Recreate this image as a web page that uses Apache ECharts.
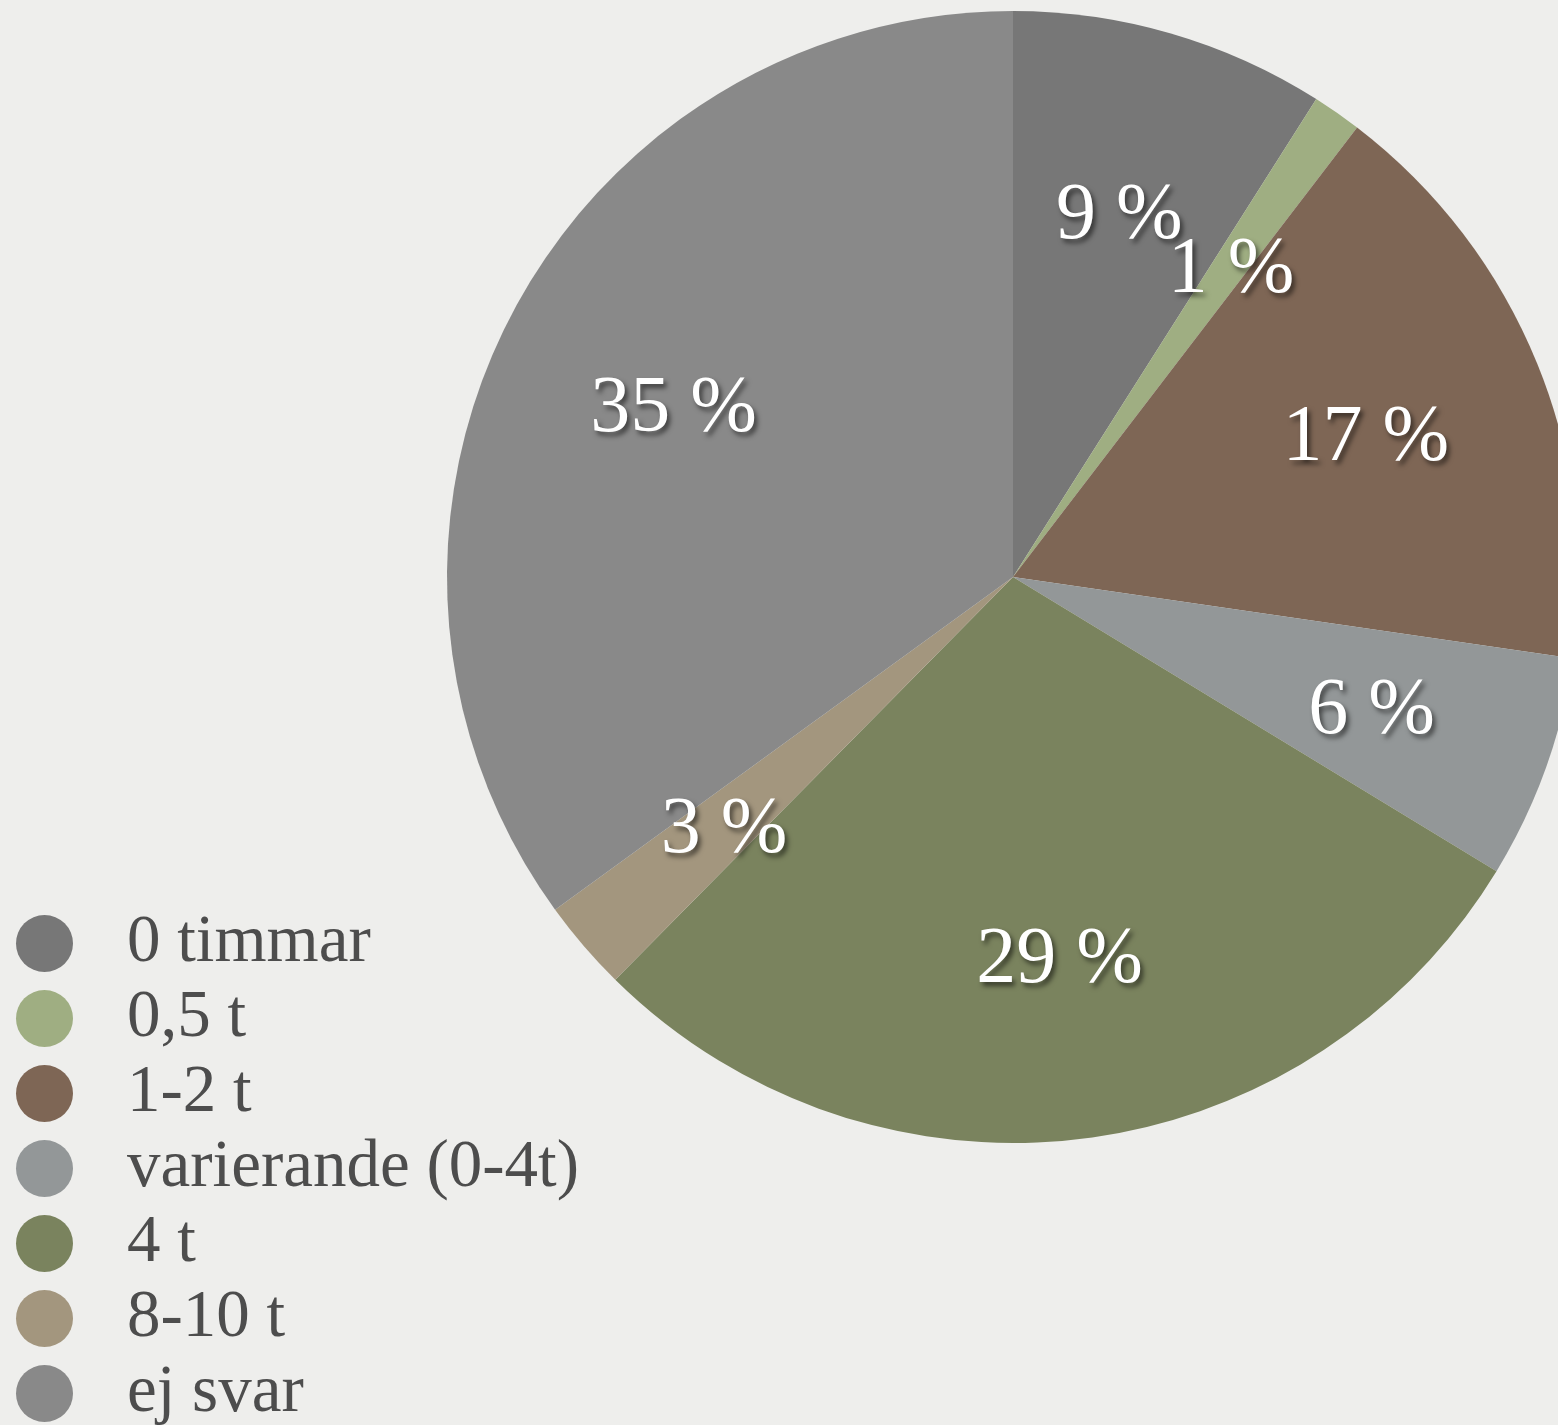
<!DOCTYPE html>
<html>
<head>
<meta charset="utf-8">
<script src="https://cdn.jsdelivr.net/npm/echarts@6/dist/echarts.min.js"></script>
<style>
  html, body { margin: 0; padding: 0; background: #eeeeec; }
  #chart { width: 1558px; height: 1425px; }
</style>
</head>
<body>
<div id="chart"></div>
<script>
// andelar (procent) läst ur bilden
var categories = ['0 timmar', '0,5 t', '1-2 t', 'varierande (0-4t)', '4 t', '8-10 t', 'ej svar'];
var values = [9.0, 1.4, 16.9, 6.4, 28.7, 2.6, 35.0];
var colors = ['#777777', '#9fae82', '#7e6655', '#939798', '#7a835e', '#a3967e', '#898989'];

var font = '"Liberation Serif", "DejaVu Serif", serif';

var pieData = categories.map(function (name, i) {
  return { name: name, value: values[i] };
});

var chart = echarts.init(document.getElementById('chart'));
chart.setOption({
  backgroundColor: '#eeeeec',
  color: colors,
  animation: false,
  legend: {
    orient: 'vertical',
    left: 16,
    top: 910,
    height: 530,
    padding: 0,
    icon: 'circle',
    itemWidth: 57,
    itemHeight: 57,
    itemGap: 8,
    data: categories,
    textStyle: {
      fontFamily: font,
      fontSize: 67,
      color: '#4d4d4d',
      padding: [0, 0, 0, 49]
    }
  },
  series: [
    {
      // själva tårtan
      type: 'pie',
      center: [1013, 577],
      radius: 566,
      startAngle: 90,
      clockwise: true,
      silent: true,
      label: { show: false },
      labelLine: { show: false },
      itemStyle: { borderWidth: 0 },
      data: pieData
    },
    {
      // osynlig ring som bär etiketterna ut till 2/3 av radien
      type: 'pie',
      center: [1013, 577],
      radius: [190, 566],
      startAngle: 90,
      clockwise: true,
      silent: true,
      legendHoverLink: false,
      avoidLabelOverlap: false,
      minShowLabelAngle: 0,
      labelLayout: { hideOverlap: false },
      itemStyle: { color: 'transparent', borderWidth: 0 },
      label: {
        show: true,
        position: 'inside',
        formatter: function (p) { return Math.round(p.value) + ' %'; },
        offset: [0, 6],
        fontFamily: font,
        fontSize: 80,
        color: '#ffffff',
        textShadowColor: 'rgba(0,0,0,0.55)',
        textShadowBlur: 5,
        textShadowOffsetX: 3,
        textShadowOffsetY: 4
      },
      labelLine: { show: false },
      data: pieData
    }
  ]
});
</script>
</body>
</html>
